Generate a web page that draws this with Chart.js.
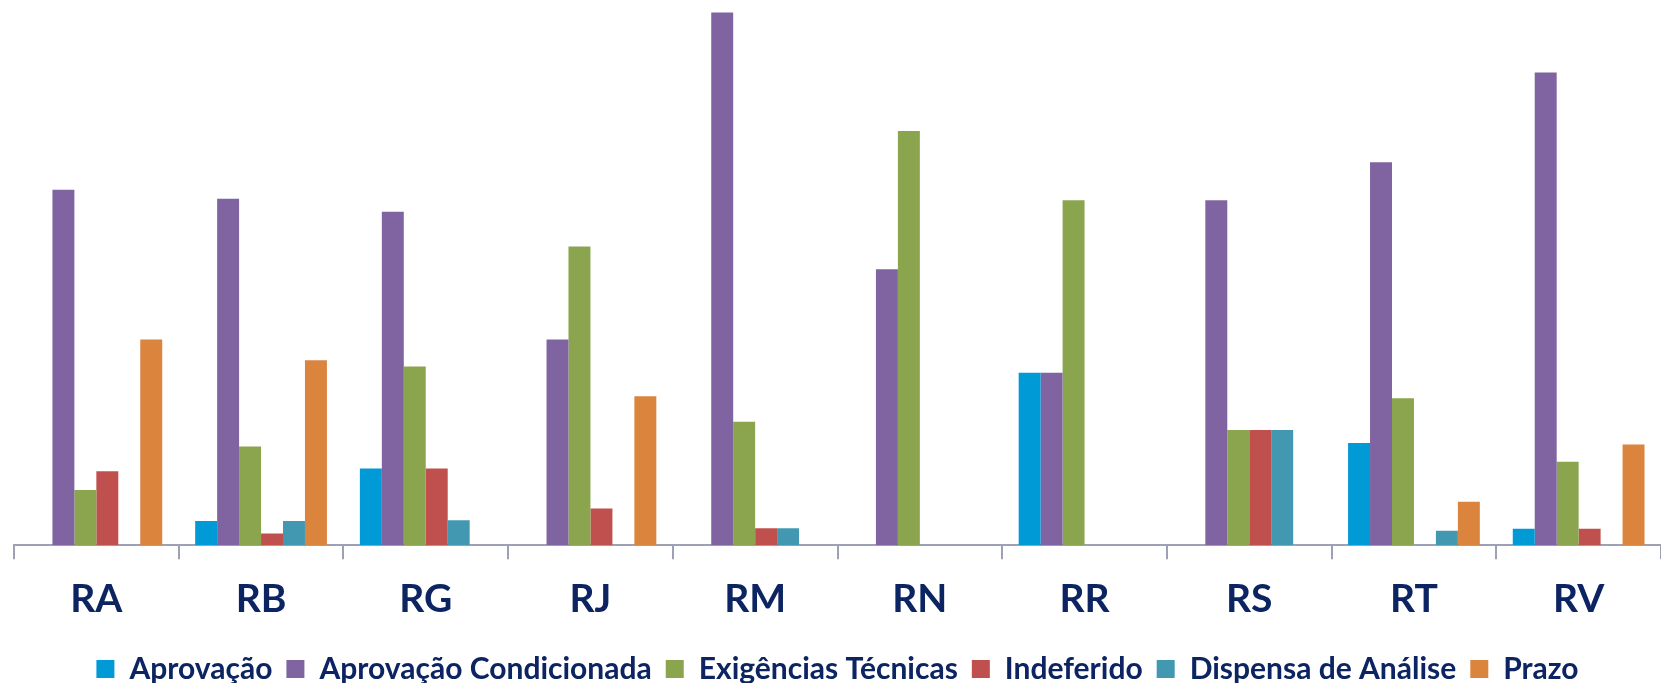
<!DOCTYPE html>
<html>
<head>
<meta charset="utf-8">
<script src="https://cdn.jsdelivr.net/npm/chart.js@4"></script>
<style>
  html, body { margin:0; padding:0; background:#fff; }
  #wrap { width:1661px; height:683px; }
</style>
</head>
<body>
<div id="wrap"><canvas id="chart"></canvas></div>
<script>
// share of each outcome per region (%)
const regions = ['RA','RB','RG','RJ','RM','RN','RR','RS','RT','RV'];
const aprovacao      = [0,   3.5,  11.1, 0,    0,    0,  25, 0,    14.8, 2.4];
const aprovacaoCond  = [51.5,50.2, 48.3, 29.8, 77.2, 40, 25, 50,   55.5, 68.5];
const exigencias     = [8.0, 14.3, 25.9, 43.3, 17.9, 60, 50, 16.7, 21.3, 12.1];
const indeferido     = [10.7,1.7,  11.1, 5.3,  2.45, 0,  0,  16.7, 0,    2.4];
const dispensa       = [0,   3.5,  3.6,  0,    2.45, 0,  0,  16.7, 2.1,  0];
const prazo          = [29.8,26.8, 0,    21.6, 0,    0,  0,  0,    6.3,  14.6];

const navy = '#0c2462';
const axisGrey = '#9ea1b3';

function ds(label, data, color){
  return { label, data, backgroundColor: color, borderWidth: 0,
           categoryPercentage: 0.8, barPercentage: 1.0 };
}

new Chart(document.getElementById('chart').getContext('2d'), {
  type: 'bar',
  data: {
    labels: regions,
    datasets: [
      ds('Aprovação', aprovacao, '#009ad6'),
      ds('Aprovação Condicionada', aprovacaoCond, '#8064a2'),
      ds('Exigências Técnicas', exigencias, '#8aa54e'),
      ds('Indeferido', indeferido, '#c0504d'),
      ds('Dispensa de Análise', dispensa, '#4298b0'),
      ds('Prazo', prazo, '#db843e')
    ]
  },
  options: {
    responsive: true,
    maintainAspectRatio: false,
    animation: false,
    layout: { padding: { left: 14, right: 0, top: 0, bottom: -11 } },
    plugins: {
      tooltip: { enabled: false },
      legend: {
        position: 'bottom',
        labels: {
          color: navy,
          boxWidth: 18,
          boxHeight: 18,
          padding: 14,
          font: { family: 'Lato, "Open Sans", sans-serif', size: 30, weight: 'bold' }
        }
      }
    },
    scales: {
      x: {
        offset: true,
        border: { display: true, color: axisGrey, width: 2 },
        grid: { display: true, offset: true, drawOnChartArea: false, drawTicks: true,
                tickLength: 14, color: axisGrey, lineWidth: 2 },
        ticks: { color: navy, padding: 17,
                 font: { family: 'Lato, "Open Sans", sans-serif', size: 39, weight: 'bold' } }
      },
      y: { display: false, min: 0, max: 79 }
    }
  }
});
</script>
</body>
</html>
